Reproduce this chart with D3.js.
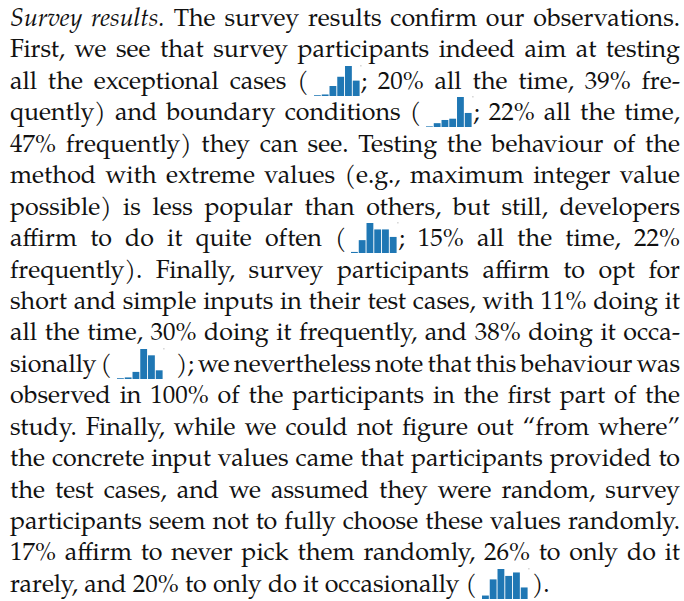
<!DOCTYPE html>
<html>
<head>
<meta charset="utf-8">
<script src="https://cdn.jsdelivr.net/npm/d3@7"></script>
<style>
  html, body { margin: 0; padding: 0; background: #fff; }
  body { width: 684px; height: 601px; overflow: hidden; position: relative; }
  #para {
    position: absolute; left: 10px; top: 0px; width: 670px;
    font-family: 'TeX Gyre Pagella', 'Liberation Serif', serif;
    font-size: 25px; line-height: 31.45px; color: #111;
  }
  .line { white-space: nowrap; height: 31.45px; }
  .spark { display: inline-block; position: relative; height: 1px; vertical-align: baseline; }
  .spark svg { position: absolute; left: 0; bottom: -8px; overflow: visible; }
  .mark { display: inline-block; width: 0; height: 0; }
</style>
</head>
<body>
<div id="para"></div>
<script>
// answer categories, same order as the bars in every sparkline
var categories = ["no answer", "never", "rarely", "occasionally", "frequently", "all the time"];

// % of participants per category
var exceptionalCases   = [1, 2, 13, 25, 39, 20];
var boundaryConditions = [1, 6, 11, 13, 47, 22];
var extremeValues      = [1, 12, 28, 22, 22, 15];
var shortInputs        = [1, 2, 9, 38, 30, 11];
var randomValues       = [3, 17, 26, 20, 23, 10];

var sparkData = {
  exceptionalCases: exceptionalCases,
  boundaryConditions: boundaryConditions,
  extremeValues: extremeValues,
  shortInputs: shortInputs,
  randomValues: randomValues
};

// the paragraph, one entry per printed line
var lines = [
  [{em: "Survey results."}, " The survey results confirm our observations."],
  ["First, we see that survey participants indeed aim at testing"],
  ["all the exceptional cases (", {spark: "exceptionalCases"}, "; 20% all the time, 39% fre-"],
  ["quently) and boundary conditions (", {spark: "boundaryConditions"}, "; 22% all the time,"],
  ["47% frequently) they can see. Testing the behaviour of the"],
  ["method with extreme values (e.g., maximum integer value"],
  ["possible) is less popular than others, but still, developers"],
  ["affirm to do it quite often (", {spark: "extremeValues"}, "; 15% all the time, 22%"],
  ["frequently). Finally, survey participants affirm to opt for"],
  ["short and simple inputs in their test cases, with 11% doing it"],
  ["all the time, 30% doing it frequently, and 38% doing it occa-"],
  ["sionally (", {spark: "shortInputs"}, "); we nevertheless note that this behaviour was"],
  ["observed in 100% of the participants in the first part of the"],
  ["study. Finally, while we could not figure out \u201cfrom where\u201d"],
  ["the concrete input values came that participants provided to"],
  ["the test cases, and we assumed they were random, survey"],
  ["participants seem not to fully choose these values randomly."],
  ["17% affirm to never pick them randomly, 26% to only do it"],
  ["rarely, and 20% to only do it occasionally (", {spark: "randomValues"}, ")."]
];

var colWidth = 670;
var firstBaseline = 26;
var sparkW = 45.6, sparkH = 30;
var trailGap = { shortInputs: 13, randomValues: 4 };

var x = d3.scaleBand().domain(categories).range([0, sparkW]).paddingInner(0.12);

function drawSpark(sel, key) {
  var values = sparkData[key];
  var y = d3.scaleLinear().domain([0, d3.max(values)]).range([sparkH + 1, 1]);

  sel.style("width", Math.ceil(sparkW) + "px")
    .style("margin-left", "5px")
    .style("margin-right", (trailGap[key] || 1) + "px");

  var svg = sel.append("svg")
    .attr("width", sparkW + 3)
    .attr("height", sparkH + 2);

  svg.selectAll("rect.bar")
    .data(values)
    .join("rect")
    .attr("class", "bar")
    .attr("x", function(d, i) { return x(categories[i]); })
    .attr("width", x.bandwidth())
    .attr("y", function(d) { return y(d); })
    .attr("height", function(d) { return sparkH + 1 - y(d); })
    .attr("fill", "#1f77b4");

  // faint marker at the top right corner
  svg.append("rect")
    .attr("x", sparkW + 0.5)
    .attr("y", 0)
    .attr("width", 1.5)
    .attr("height", 1.5)
    .attr("fill", "#d4d4d4");
}

var para = d3.select("#para")
  .style("font-family", "'TeX Gyre Pagella', 'Liberation Serif', serif");

var row = para.selectAll("div.line")
  .data(lines)
  .join("div")
  .attr("class", "line");

row.each(function(segs, li) {
  var inner = d3.select(this).append("span").attr("class", "inner");
  var spaces = 0;
  segs.forEach(function(seg) {
    if (typeof seg === "string") {
      inner.append("span").text(seg);
      spaces += (seg.match(/ /g) || []).length;
    } else if (seg.em) {
      inner.append("em").text(seg.em);
      spaces += (seg.em.match(/ /g) || []).length;
    } else {
      drawSpark(inner.append("span").attr("class", "spark"), seg.spark);
    }
  });

  // justify every line but the last one by hand
  if (li < lines.length - 1 && spaces > 0) {
    var w = inner.node().getBoundingClientRect().width;
    d3.select(this).style("word-spacing", ((colWidth - w) / spaces) + "px");
  }
});

// shift the block so the first baseline lands where it is in the reference
var mark = para.select("div.line").append("span").attr("class", "mark");
var base = mark.node().getBoundingClientRect().bottom;
para.style("top", (firstBaseline - base) + "px");
mark.remove();
</script>
</body>
</html>
